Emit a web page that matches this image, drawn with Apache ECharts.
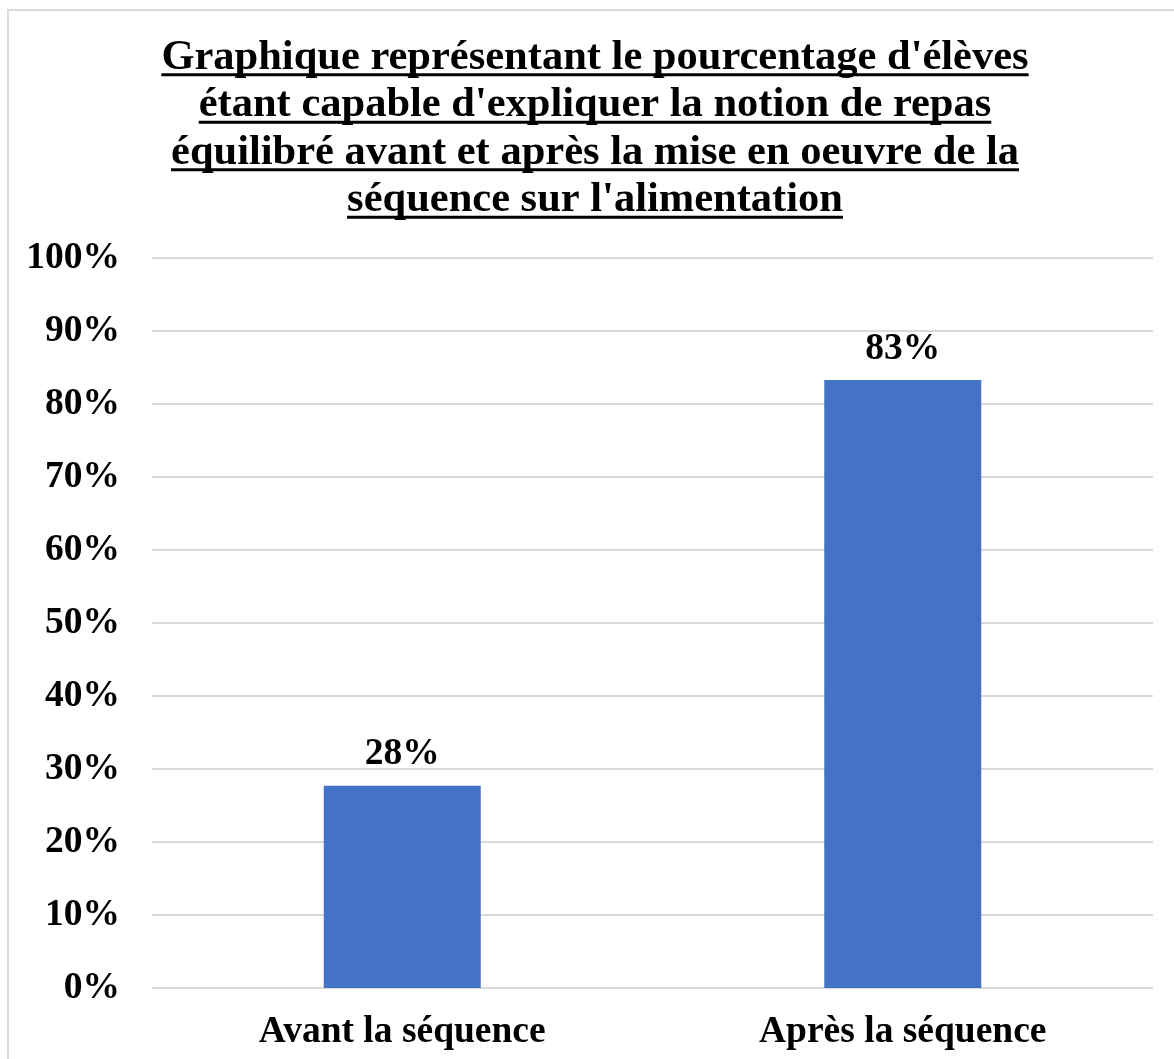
<!DOCTYPE html>
<html>
<head>
<meta charset="utf-8">
<script src="https://cdn.jsdelivr.net/npm/echarts@6/dist/echarts.min.js"></script>
<style>
  html, body { margin: 0; padding: 0; background: #fff; }
  #chart { width: 1174px; height: 1059px; }
</style>
</head>
<body>
<div id="chart"></div>
<script>
// données
const categories = ['Avant la séquence', 'Après la séquence'];
const values = [27.7, 83.3];
const yTicks = [0, 10, 20, 30, 40, 50, 60, 70, 80, 90, 100];
const titleLines = [
  "Graphique représentant le pourcentage d'élèves",
  "étant capable d'expliquer la notion de repas",
  "équilibré avant et après la mise en oeuvre de la",
  "séquence sur l'alimentation"
];

const FONT = '"Liberation Serif", "Times New Roman", serif';
const titleSize = 42.5;
const lineH = 47.5;
const titleTop = 34;
const titleCx = 595;
const labelSize = 37.5;

let chart = echarts.init(document.getElementById('chart'));

// soulignement du titre (echarts ne gère pas text-decoration)
const ctx = document.createElement('canvas').getContext('2d');
ctx.font = 'bold ' + titleSize + 'px ' + FONT;
const underlines = titleLines.map(function (t, i) {
  const w = ctx.measureText(t).width;
  const y = titleTop + lineH * i + lineH / 2 + 17;
  return {
    type: 'line',
    shape: { x1: titleCx - w / 2, y1: y, x2: titleCx + w / 2, y2: y },
    style: { stroke: '#000', lineWidth: 3 },
    silent: true
  };
});

const option = {
  backgroundColor: '#fff',
  title: {
    text: titleLines.join('\n'),
    left: titleCx,
    textAlign: 'center',
    top: titleTop,
    padding: 0,
    textStyle: {
      fontFamily: FONT,
      fontWeight: 'bold',
      fontSize: titleSize,
      lineHeight: lineH,
      color: '#000'
    }
  },
  graphic: [
    {
      type: 'rect',
      shape: { x: 8, y: 10, width: 1300, height: 1200 },
      style: { fill: 'none', stroke: '#d9d9d9', lineWidth: 2 },
      silent: true,
      z: -1
    }
  ].concat(underlines),
  grid: { left: 152, right: 21, top: 258, bottom: 71 },
  xAxis: {
    type: 'category',
    data: categories,
    axisTick: { show: false },
    axisLine: { show: false },
    axisLabel: {
      margin: 25,
      fontFamily: FONT,
      fontWeight: 'bold',
      fontSize: labelSize,
      color: '#000'
    }
  },
  yAxis: {
    type: 'value',
    min: yTicks[0],
    max: yTicks[yTicks.length - 1],
    interval: 10,
    axisLine: { show: false },
    axisTick: { show: false },
    splitLine: { lineStyle: { color: '#d9d9d9', width: 2 } },
    axisLabel: {
      margin: 32,
      formatter: '{value}%',
      fontFamily: FONT,
      fontWeight: 'bold',
      fontSize: labelSize,
      color: '#000'
    }
  },
  series: [{
    type: 'bar',
    data: values,
    barWidth: 157,
    itemStyle: { color: '#4472C4' },
    label: {
      show: true,
      position: 'top',
      distance: 12,
      formatter: function (p) { return Math.round(p.value) + '%'; },
      fontFamily: FONT,
      fontWeight: 'bold',
      fontSize: labelSize,
      color: '#000'
    }
  }],
  animation: false
};

chart.setOption(option);
</script>
</body>
</html>
